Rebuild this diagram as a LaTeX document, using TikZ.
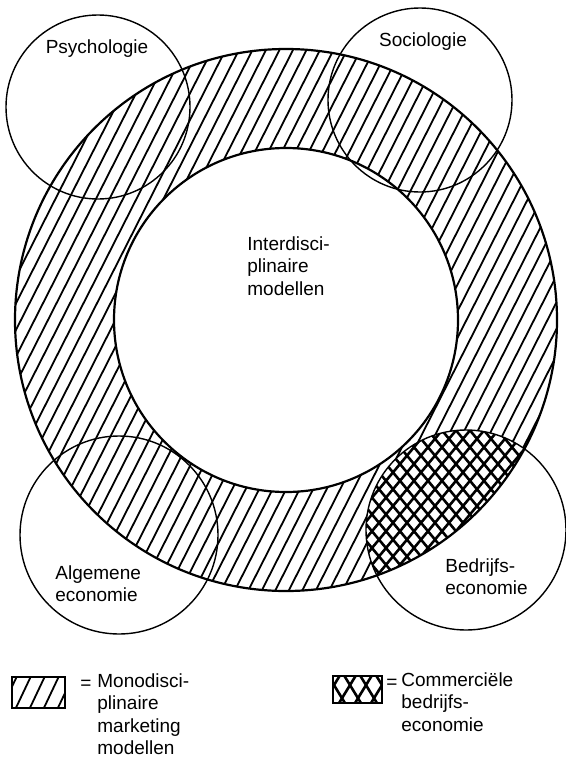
\documentclass[tikz,border=0pt]{standalone}
\usepackage{fontspec}
\setmainfont{Liberation Sans}

\begin{document}
\begin{tikzpicture}[x=0.5pt,y=-0.5pt,
  every node/.style={font=\fontsize{9.5}{11.25}\selectfont, inner sep=0pt},
  ringline/.style={line width=1.1pt},
  discline/.style={line width=0.7pt},
  hatchline/.style={line width=0.9pt},
  crossline/.style={line width=1.3pt}]
  \useasboundingbox (0,0) rectangle (566,766);
  \coordinate (c) at (286,320);
  % hatched ring
  \begin{scope}[even odd rule]
    \clip (c) circle [radius=271] (c) circle [radius=172];
    \foreach \i in {-300,-286.5,...,540}
      \draw[hatchline] (\i,660) -- ++(345,-680);
    % overlap with bedrijfseconomie: cross hatched
    \clip (466,530) circle [radius=100];
    \fill[white] (350,400) rectangle (566,640);
    \foreach \i in {200,214,...,560}
      \draw[crossline] (\i,620) -- ++(250,-300);
    \foreach \i in {126,140,...,480}
      \draw[crossline] (\i,320) -- ++(250,300);
  \end{scope}
  \draw[ringline] (c) circle [radius=271];
  \draw[ringline] (c) circle [radius=172];
  % the four disciplines
  \draw[discline] (98,107) circle [radius=92];
  \draw[discline] (420,100) circle [radius=92];
  \draw[discline] (119,535) circle [radius=99];
  \draw[discline] (466,530) circle [radius=100];
  \node[anchor=base] (psy) at (97,53) {Psychologie};
  \node[anchor=base] (soc) at (423,46) {Sociologie};
  \node[anchor=north west, align=left] (inter) at (247,236) {Interdisci-\\plinaire\\modellen};
  \node[anchor=north west, align=left] (alg) at (55,565) {Algemene\\economie};
  \node[anchor=north west, align=left] (bed) at (445,558) {Bedrijfs-\\economie};
  % legend
  \begin{scope}
    \clip (12,677) rectangle (65,708);
    \foreach \i in {0,14,...,70}
      \draw[hatchline] (\i,712) -- ++(18,-38);
  \end{scope}
  \draw[ringline] (12,677) rectangle (65,708);
  \node[anchor=base west] (eqmono) at (80,689) {=};
  \node[anchor=north west, align=left] (mono) at (97,673) {Monodisci-\\plinaire\\marketing\\modellen};
  \begin{scope}
    \clip (333,676) rectangle (382,703);
    \foreach \i in {320,336,...,390}
      \draw[crossline] (\i,708) -- ++(22,-36);
    \foreach \i in {310,326,...,390}
      \draw[crossline] (\i,672) -- ++(22,36);
  \end{scope}
  \draw[ringline] (333,676) rectangle (382,703);
  \node[anchor=base west] (eqcomm) at (386,688) {=};
  \node[anchor=north west, align=left] (comm) at (401,672) {Commerciële\\bedrijfs-\\economie};
\end{tikzpicture}
\end{document}
